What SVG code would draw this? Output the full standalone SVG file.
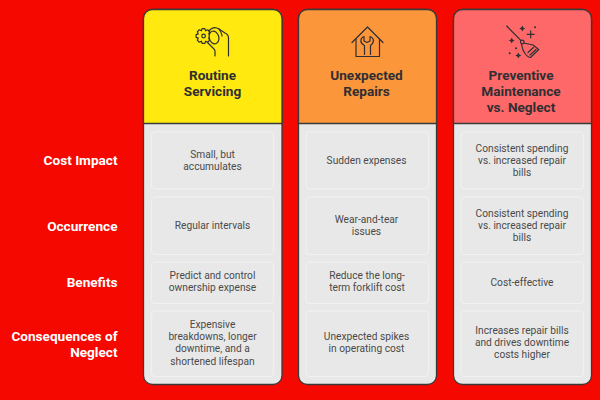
<svg xmlns="http://www.w3.org/2000/svg" width="600" height="400" viewBox="0 0 600 400">
<style>
text{font-family:Roboto,"Liberation Sans",sans-serif}
.lab{font-size:13.6px;font-weight:700;fill:#fff;text-anchor:end}
.tit{font-size:13.6px;font-weight:700;fill:#2f2f33;text-anchor:middle}
.bod{font-size:10.2px;fill:#4a4a4a;text-anchor:middle}
.card{fill:#e8e8e8;stroke:#3a3a3a;stroke-width:1.3}
.cell{fill:#e8e8e8;stroke:#f1f1f1;stroke-width:1.2}
.div{fill:none;stroke:#3a3a3a;stroke-width:1.3}
.ic{fill:none;stroke:#2f2f33;stroke-width:1.2;stroke-linecap:round;stroke-linejoin:round}
</style>
<rect width="600" height="400" fill="#f40800"/>
<g id="row-labels">
<text class="lab" x="117.500" y="165">Cost Impact</text>
<text class="lab" x="117.500" y="230.500">Occurrence</text>
<text class="lab" x="117.500" y="287">Benefits</text>
<text class="lab" x="117.500" y="340.500">Consequences of</text>
<text class="lab" x="117.500" y="356.800">Neglect</text>
</g>
<g id="col-routine">
<rect class="card" x="143.500" y="9.500" width="138.500" height="375" rx="9"/>
<path d="M143.500 123V18.500a9 9 0 0 1 9-9H273a9 9 0 0 1 9 9V123Z" fill="#ffe90f"/>
<path class="div" d="M143.500 123.500V18.500a9 9 0 0 1 9-9H273a9 9 0 0 1 9 9V123.500ZM143.500 123.500H282"/>
<g class="ic">
<path transform="translate(203.500 36)" d="M7.360 -1.430L7.360 1.430L5.190 2.100L6.220 4.190L4.190 6.220L2.100 5.190L1.430 7.360L-1.430 7.360L-2.100 5.190L-4.190 6.220L-6.220 4.190L-5.190 2.100L-7.360 1.430L-7.360 -1.430L-5.190 -2.100L-6.220 -4.190L-4.190 -6.220L-2.100 -5.190L-1.430 -7.360L1.430 -7.360L2.100 -5.190L4.190 -6.220L6.220 -4.190L5.190 -2.100Z"/>
<circle cx="203.600" cy="36" r="1.800"/>
<ellipse cx="214" cy="37.500" rx="4.800" ry="6.500" transform="rotate(-15 214 37.500)" fill="#ffe90f"/>
<path d="M209 31C212 27 216 27 219 29L225 33C228 34.500 228.500 36 228.500 38V56"/>
<path d="M207.500 42.500L214 49C215.500 50.500 215 51.500 215 52.500V56"/>
<path d="M219 29C221 32 222 34 222 36"/>
</g>
<text class="tit" x="212.500" y="79.500">Routine</text>
<text class="tit" x="212.500" y="96">Servicing</text>
<g id="routine-cells">
<rect class="cell" x="151.500" y="132" width="122" height="57" rx="4"/>
<rect class="cell" x="151.500" y="197" width="122" height="57.500" rx="4"/>
<rect class="cell" x="151.500" y="262" width="122" height="41.500" rx="4"/>
<rect class="cell" x="151.500" y="311" width="122" height="65.500" rx="4"/>
</g>
<text class="bod" x="212.500" y="157.700">Small, but</text>
<text class="bod" x="212.500" y="169.900">accumulates</text>
<text class="bod" x="212.500" y="229">Regular intervals</text>
<text class="bod" x="212.500" y="279">Predict and control</text>
<text class="bod" x="212.500" y="291.200">ownership expense</text>
<text class="bod" x="212.500" y="328">Expensive</text>
<text class="bod" x="212.500" y="340.200">breakdowns, longer</text>
<text class="bod" x="212.500" y="352.400">downtime, and a</text>
<text class="bod" x="212.500" y="364.600">shortened lifespan</text>
</g>
<g id="col-repairs">
<rect class="card" x="298.500" y="9.500" width="138" height="375" rx="9"/>
<path d="M298.500 123V18.500a9 9 0 0 1 9-9H427.500a9 9 0 0 1 9 9V123Z" fill="#fc963a"/>
<path class="div" d="M298.500 123.500V18.500a9 9 0 0 1 9-9H427.500a9 9 0 0 1 9 9V123.500ZM298.500 123.500H436.500"/>
<g class="ic">
<path d="M352 42.500L367.500 27L383 42.500"/>
<path d="M356 39V56.500H379.500V39"/>
<path d="M364.500 54.500V45.500C361.500 44 360.500 42 361 39.500C361.500 38 362.500 37 364 36.500V41L367 42.500L370 41V36.500C372 37 373 38.500 373.500 40C373.500 42.500 372.500 44 370.500 45.500V54.500"/>
</g>
<text class="tit" x="366.500" y="79.500">Unexpected</text>
<text class="tit" x="366.500" y="96">Repairs</text>
<g id="repairs-cells">
<rect class="cell" x="306" y="132" width="122.500" height="57" rx="4"/>
<rect class="cell" x="306" y="197" width="122.500" height="57.500" rx="4"/>
<rect class="cell" x="306" y="262" width="122.500" height="41.500" rx="4"/>
<rect class="cell" x="306" y="311" width="122.500" height="65.500" rx="4"/>
</g>
<text class="bod" x="366.500" y="163.800">Sudden expenses</text>
<text class="bod" x="366.500" y="222.900">Wear-and-tear</text>
<text class="bod" x="366.500" y="235.100">issues</text>
<text class="bod" x="367" y="279">Reduce the long-</text>
<text class="bod" x="367" y="291.200">term forklift cost</text>
<text class="bod" x="366.500" y="340">Unexpected spikes</text>
<text class="bod" x="366.500" y="352.200">in operating cost</text>
</g>
<g id="col-preventive">
<rect class="card" x="453.500" y="9.500" width="138" height="375" rx="9"/>
<path d="M453.500 123V18.500a9 9 0 0 1 9-9H582.500a9 9 0 0 1 9 9V123Z" fill="#ff6868"/>
<path class="div" d="M453.500 123.500V18.500a9 9 0 0 1 9-9H582.500a9 9 0 0 1 9 9V123.500ZM453.500 123.500H591.500"/>
<g class="ic">
<path d="M506.700 26L520.800 40.300"/>
<circle cx="522.300" cy="42" r="1.800"/>
<path d="M523.500 43L533 45L538.700 49.500L530.500 57.500C528.500 57.500 526.500 55.500 525 53.500C523 51 522 48 521.500 44"/>
<path d="M528 52.500L533.500 47.500M530 55L536 49.500"/>
<path d="M530.700 30.800V37.800M527.200 34.300H534.200"/>
</g>
<g fill="#2f2f33">
<path d="M522.300 25.500l1 2 2 1-2 1-1 2-1-2-2-1 2-1zM511.700 37.500l1 2 2 1-2 1-1 2-1-2-2-1 2-1zM518.300 52.500l1 2 2 1-2 1-1 2-1-2-2-1 2-1z"/>
<circle cx="535" cy="27.300" r="1"/><circle cx="516" cy="48.300" r="1"/><circle cx="509.700" cy="53.300" r="1"/>
</g>
<text class="tit" x="521" y="79.500">Preventive</text>
<text class="tit" x="521" y="96">Maintenance</text>
<text class="tit" x="521" y="112.300">vs. Neglect</text>
<g id="preventive-cells">
<rect class="cell" x="461" y="132" width="122.500" height="57" rx="4"/>
<rect class="cell" x="461" y="197" width="122.500" height="57.500" rx="4"/>
<rect class="cell" x="461" y="262" width="122.500" height="41.500" rx="4"/>
<rect class="cell" x="461" y="311" width="122.500" height="65.500" rx="4"/>
</g>
<text class="bod" x="522" y="151.700">Consistent spending</text>
<text class="bod" x="522" y="163.900">vs. increased repair</text>
<text class="bod" x="522" y="176.100">bills</text>
<text class="bod" x="522" y="216.800">Consistent spending</text>
<text class="bod" x="522" y="229">vs. increased repair</text>
<text class="bod" x="522" y="241.200">bills</text>
<text class="bod" x="522" y="286">Cost-effective</text>
<text class="bod" x="522" y="334">Increases repair bills</text>
<text class="bod" x="522" y="346.200">and drives downtime</text>
<text class="bod" x="522" y="358.400">costs higher</text>
</g>
</svg>
